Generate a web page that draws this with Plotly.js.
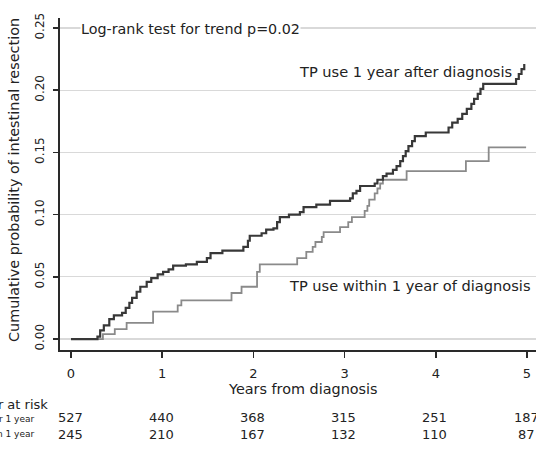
<!DOCTYPE html>
<html>
<head>
<meta charset="utf-8">
<script src="https://cdn.plot.ly/plotly-3.0.1.min.js"></script>
<style>
html,body{margin:0;padding:0;background:#fff;}
#chart{width:536px;height:451px;}
</style>
</head>
<body>
<div id="chart"></div>
<script>
// ---- data ----
const seriesNames = ["TP use 1 year after diagnosis", "TP use within 1 year of diagnosis"];

const timeAfter = [0, 0.29, 0.32, 0.36, 0.42, 0.47, 0.56, 0.60, 0.64, 0.67, 0.72, 0.76, 0.83, 0.88, 0.95, 1.01, 1.07, 1.12, 1.26, 1.38, 1.49, 1.53, 1.66, 1.89, 1.94, 1.96, 2.09, 2.14, 2.22, 2.26, 2.29, 2.39, 2.51, 2.55, 2.69, 2.84, 3.06, 3.09, 3.13, 3.17, 3.33, 3.36, 3.42, 3.46, 3.53, 3.57, 3.61, 3.64, 3.67, 3.70, 3.74, 3.77, 3.89, 4.14, 4.18, 4.24, 4.29, 4.34, 4.39, 4.42, 4.46, 4.49, 4.52, 4.88, 4.91, 4.94, 4.97];
const cumAfter  = [0, 0.002, 0.007, 0.011, 0.016, 0.019, 0.021, 0.025, 0.029, 0.033, 0.038, 0.042, 0.046, 0.049, 0.052, 0.054, 0.056, 0.059, 0.060, 0.062, 0.065, 0.069, 0.071, 0.074, 0.079, 0.083, 0.085, 0.088, 0.089, 0.094, 0.098, 0.100, 0.102, 0.106, 0.108, 0.111, 0.113, 0.117, 0.119, 0.123, 0.125, 0.128, 0.131, 0.133, 0.136, 0.139, 0.143, 0.147, 0.151, 0.155, 0.159, 0.163, 0.166, 0.170, 0.174, 0.177, 0.181, 0.185, 0.189, 0.193, 0.197, 0.201, 0.205, 0.209, 0.213, 0.217, 0.221];

const timeWithin = [0, 0.35, 0.48, 0.61, 0.90, 1.17, 1.21, 1.76, 1.87, 2.04, 2.07, 2.48, 2.58, 2.65, 2.68, 2.75, 2.77, 2.95, 3.04, 3.08, 3.22, 3.25, 3.27, 3.33, 3.36, 3.39, 3.42, 3.68, 4.33, 4.58, 4.99];
const cumWithin  = [0, 0.004, 0.008, 0.013, 0.022, 0.027, 0.031, 0.037, 0.042, 0.054, 0.060, 0.065, 0.070, 0.074, 0.078, 0.082, 0.086, 0.090, 0.094, 0.098, 0.103, 0.107, 0.112, 0.117, 0.121, 0.125, 0.128, 0.135, 0.143, 0.154, 0.154];

const xTickVals = [0, 1, 2, 3, 4, 5];
const yTickVals = [0, 0.05, 0.10, 0.15, 0.20, 0.25];
const yTickText = ["0.00", "0.05", "0.10", "0.15", "0.20", "0.25"];
const riskAfter  = [527, 440, 368, 315, 251, 187];
const riskWithin = [245, 210, 167, 132, 110, 87];
const riskRowLabels = ["After 1 year", "Within 1 year"];

// ---- layout helpers (pixel -> paper) ----
const W = 536, H = 451;
const M = {l: 60, r: 0, t: 18, b: 101};
const PW = W - M.l - M.r, PH = H - M.t - M.b;
const px = v => (v - M.l) / PW;
const py = v => (H - M.b - v) / PH;

const FONT = "DejaVu Sans, Arial, sans-serif";
const TXT = "#222222";

const traces = [
  {x: timeWithin, y: cumWithin, type: "scatter", mode: "lines", name: seriesNames[1],
   line: {shape: "hv", color: "#8a8a8a", width: 1.8}, hoverinfo: "skip"},
  {x: timeAfter, y: cumAfter, type: "scatter", mode: "lines", name: seriesNames[0],
   line: {shape: "hv", color: "#383838", width: 2.2}, hoverinfo: "skip"}
];

const ann = [];
ann.push({xref: "paper", yref: "paper", x: px(80), y: py(29.5), xanchor: "left", yanchor: "middle",
  text: "Log-rank test for trend p=0.02", showarrow: false, bgcolor: "#ffffff", borderpad: 0,
  font: {family: FONT, size: 14.3, color: TXT}});
ann.push({xref: "paper", yref: "paper", x: px(297), y: py(71), xanchor: "left", yanchor: "middle",
  text: seriesNames[0], showarrow: false, font: {family: FONT, size: 14.6, color: TXT}});
ann.push({xref: "paper", yref: "paper", x: px(287), y: py(285), xanchor: "left", yanchor: "middle",
  text: seriesNames[1], showarrow: false, font: {family: FONT, size: 14.6, color: TXT}});
// y axis title
ann.push({xref: "paper", yref: "paper", x: px(14), y: py(180), xanchor: "center", yanchor: "middle",
  textangle: -90, text: "Cumulative probability of intestinal resection", showarrow: false,
  font: {family: FONT, size: 14.4, color: TXT}});
// x axis title
ann.push({xref: "paper", yref: "paper", x: px(303), y: py(389), xanchor: "center", yanchor: "middle",
  text: "Years from diagnosis", showarrow: false, font: {family: FONT, size: 14.4, color: TXT}});
// risk table
ann.push({xref: "paper", yref: "paper", x: px(50), y: py(404), xanchor: "right", yanchor: "middle",
  text: "Number at risk", showarrow: false, font: {family: FONT, size: 13, color: TXT}});
ann.push({xref: "paper", yref: "paper", x: px(36), y: py(418.5), xanchor: "right", yanchor: "middle",
  text: riskRowLabels[0], showarrow: false, font: {family: FONT, size: 9, color: TXT}});
ann.push({xref: "paper", yref: "paper", x: px(36), y: py(434), xanchor: "right", yanchor: "middle",
  text: riskRowLabels[1], showarrow: false, font: {family: FONT, size: 9, color: TXT}});
xTickVals.forEach((t, i) => {
  ann.push({xref: "x", yref: "paper", x: t, y: py(418), xanchor: "center", yanchor: "middle", xshift: -1,
    text: String(riskAfter[i]), showarrow: false, font: {family: FONT, size: 13, color: TXT}});
  ann.push({xref: "x", yref: "paper", x: t, y: py(434), xanchor: "center", yanchor: "middle", xshift: -1,
    text: String(riskWithin[i]), showarrow: false, font: {family: FONT, size: 13, color: TXT}});
});

const layout = {
  width: W, height: H,
  margin: M,
  paper_bgcolor: "#ffffff", plot_bgcolor: "#ffffff",
  showlegend: false,
  font: {family: FONT, color: TXT},
  xaxis: {
    range: [-11 / 91.2, 5 + 9 / 91.2], tickvals: xTickVals, ticktext: xTickVals.map(String),
    showgrid: false, zeroline: false, showline: true, linecolor: "#2a2a2a", linewidth: 2,
    ticks: "outside", ticklen: 6, tickwidth: 1.5, tickcolor: "#2a2a2a",
    tickfont: {family: FONT, size: 13, color: TXT}, ticklabelstandoff: 4
  },
  yaxis: {
    range: [-11 / 1248, 0.25 + 10 / 1248], tickvals: yTickVals, ticktext: yTickText,
    showgrid: true, gridcolor: "#d9d9d9", gridwidth: 1.2, zeroline: false,
    showline: true, linecolor: "#2a2a2a", linewidth: 2,
    ticks: "outside", ticklen: 5, tickwidth: 1.5, tickcolor: "#2a2a2a",
    tickangle: -90, tickfont: {family: FONT, size: 12, color: TXT}, ticklabelstandoff: 4
  },
  annotations: ann
};

Plotly.newPlot("chart", traces, layout, {displayModeBar: false, staticPlot: true});
</script>
</body>
</html>
